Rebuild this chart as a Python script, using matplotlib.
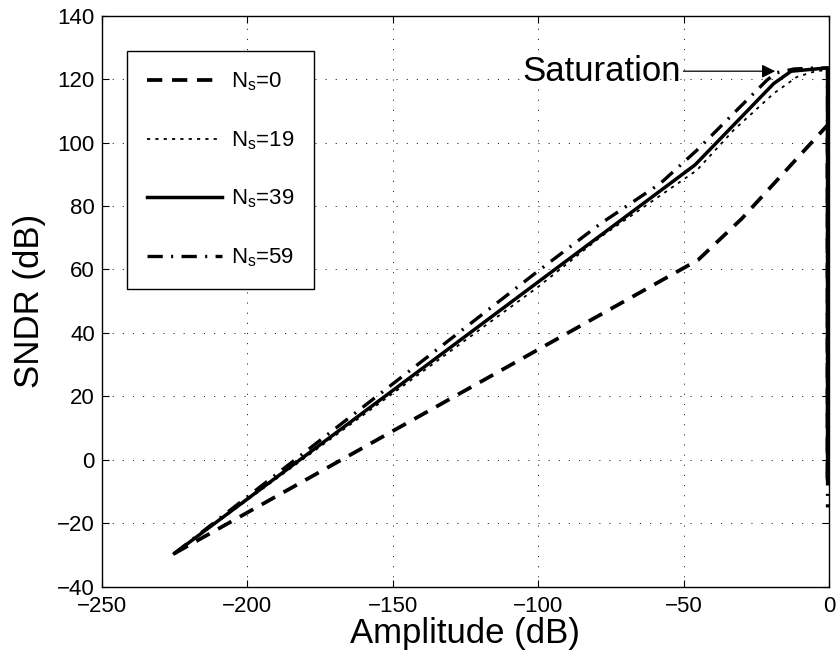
import matplotlib
matplotlib.use("Agg")
import matplotlib.pyplot as plt

plt.rcParams['font.family'] = ['Liberation Sans', 'DejaVu Sans']
plt.rcParams['mathtext.fontset'] = 'custom'
plt.rcParams['mathtext.rm'] = 'Liberation Sans'
plt.rcParams['mathtext.it'] = 'Liberation Sans'
plt.rcParams['lines.scale_dashes'] = False

# ---- data ----
amp_ns0 = [-225, -45, -30, -20, -15, -10, -5, -0.5, -0.5]
sndr_ns0 = [-29.5, 63, 76, 86, 91, 96, 101, 105.5, -6]

amp_ns19 = [-225, -100, -78.6, -45.4, -32.8, -19, -11, -5.3, -0.5, -0.5]
sndr_ns19 = [-29.5, 54.5, 70.2, 91.3, 103.9, 115.5, 120.7, 122.3, 123, -6]

amp_ns39 = [-225, -46, -19, -13, -1, -0.5, -0.5]
sndr_ns39 = [-29.5, 93, 118.6, 122.5, 123.5, 123.5, -6]

amp_ns59 = [-225, -100, -78.6, -58, -45.4, -30.5, -21.3, -18, -12, -5, -0.5, -0.5]
sndr_ns59 = [-29.5, 59.5, 74.4, 87.1, 97.6, 111.3, 119.7, 122, 123.2, 123.5, 123.5, -15]

labels = ['N$_\\mathregular{s}$=0', 'N$_\\mathregular{s}$=19',
          'N$_\\mathregular{s}$=39', 'N$_\\mathregular{s}$=59']
xticks = [-250, -200, -150, -100, -50, 0]
yticks = [-40, -20, 0, 20, 40, 60, 80, 100, 120, 140]

fig = plt.figure(figsize=(8.36, 6.59), dpi=100)
ax = fig.add_axes([0.1217, 0.1097, 0.8699, 0.8665])

l0, = ax.plot(amp_ns0, sndr_ns0, color='black', lw=2.7, label=labels[0])
l0.set_dashes((11.0, 7.0))
l1, = ax.plot(amp_ns19, sndr_ns19, color='black', lw=1.3, label=labels[1])
l1.set_dashes((2.3, 3.7))
l2, = ax.plot(amp_ns39, sndr_ns39, color='black', lw=2.5, solid_joinstyle='miter', label=labels[2])
l3, = ax.plot(amp_ns59, sndr_ns59, color='black', lw=2.4, label=labels[3])
l3.set_dashes((11.0, 6.0, 1.5, 6.0))

ax.set_xlim(-250, 0)
ax.set_ylim(-40, 140)
ax.set_xticks(xticks)
ax.set_yticks(yticks)
ax.set_xticklabels(['\u2212' + str(-t) if t < 0 else str(t) for t in xticks])
ax.set_yticklabels(['\u2212' + str(-t) if t < 0 else str(t) for t in yticks])

ax.grid(True, color='black', lw=0.6, linestyle=(0, (0.8, 6.5)))
ax.tick_params(direction='in', length=5, width=0.8, top=True, right=True,
               labelsize=16)
ax.tick_params(axis='x', pad=7)
ax.tick_params(axis='y', pad=5)
for s in ax.spines.values():
    s.set_linewidth(1.0)

ax.set_xlabel('Amplitude (dB)', fontsize=25, labelpad=0)
ax.set_ylabel('SNDR (dB)', fontsize=25, labelpad=8)

ax.annotate('Saturation', xy=(-18.5, 122.5), xytext=(-105.5, 122.5),
            fontsize=25, ha='left', va='center',
            arrowprops=dict(arrowstyle='-|>', color='black', lw=0.9,
                            shrinkA=0, shrinkB=0, mutation_scale=20))

leg = ax.legend(loc='upper left', bbox_to_anchor=(0.0344, 0.9387),
                borderaxespad=0, fontsize=16, handlelength=3.4,
                handletextpad=0.4, labelspacing=1.62,
                borderpad=0.9, fancybox=False, edgecolor='black',
                framealpha=1)
leg.get_frame().set_linewidth(1.0)

fig.savefig('out.png', dpi=100)
